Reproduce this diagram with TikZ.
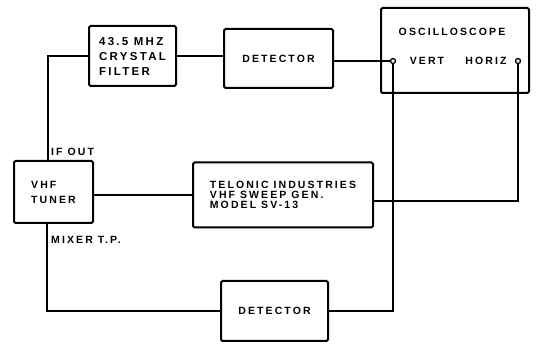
\documentclass[tikz,border=0pt]{standalone}
\usepackage{fontspec}
\newfontfamily\lblfont{Liberation Sans}[LetterSpace=20]
\begin{document}
\begin{tikzpicture}[x=1pt,y=1pt,
  lbl/.style={font=\lblfont\bfseries\fontsize{10.5}{15}\selectfont, align=left, inner sep=0pt},
  tight/.style={font=\lblfont\bfseries\fontsize{10.5}{9.8}\selectfont},
  blk/.style={draw, line width=2pt, rounded corners=1.5pt, inner sep=0pt, lbl},
  wire/.style={line width=1.7pt},
  term/.style={circle, draw, line width=1.3pt, fill=white, inner sep=0pt, minimum size=5pt}]
\useasboundingbox (0,0) rectangle (538,344);
% blocks
\node[blk, minimum width=87pt, minimum height=60pt, font=\lblfont\bfseries\fontsize{11.5}{15}\selectfont] (filter) at (132.5,288) {43.5 MHZ\\CRYSTAL\\FILTER};
\node[blk, minimum width=109pt, minimum height=59pt] (det1) at (278.5,285.5) {DETECTOR};
\node[blk, minimum width=148pt, minimum height=85pt] (scope) at (455,293.5) {};
\node[lbl] (scopet) at (452,312.5) {OSCILLOSCOPE};
\node[lbl] (vertt) at (427,283) {VERT};
\node[lbl] (horizt) at (486,283) {HORIZ};
\node[blk, minimum width=79pt, minimum height=62pt] (tuner) at (53.5,152) {VHF\\TUNER};
\node[blk, tight, minimum width=180pt, minimum height=65pt] (telonic) at (283,149) {TELONIC INDUSTRIES\\VHF SWEEP GEN.\\MODEL SV-13};
\node[blk, minimum width=107pt, minimum height=60pt] (det2) at (274.5,33) {DETECTOR};
% labels
\node[lbl, anchor=west] (ifout) at (51,192) {IF OUT};
\node[lbl, anchor=west] (mixer) at (51,104) {MIXER T.P.};
% terminals
\coordinate (vert) at (393,283);
\coordinate (horiz) at (518,283);
% wires
\draw[wire] (filter.west) -| ([xshift=-5.5pt]tuner.north);
\draw[wire] (filter.east) -- (filter.east -| det1.west);
\draw[wire] (det1.east |- vert) -- (vert);
\draw[wire] (tuner.east |- telonic.west) -- (telonic.west);
\draw[wire] ([yshift=-6pt]telonic.east) -| (horiz);
\draw[wire] (vert) |- (det2.east);
\draw[wire] ([xshift=-6.5pt]tuner.south) |- (det2.west);
\node[term] (vertc) at (vert) {};
\node[term] (horizc) at (horiz) {};
\end{tikzpicture}
\end{document}
